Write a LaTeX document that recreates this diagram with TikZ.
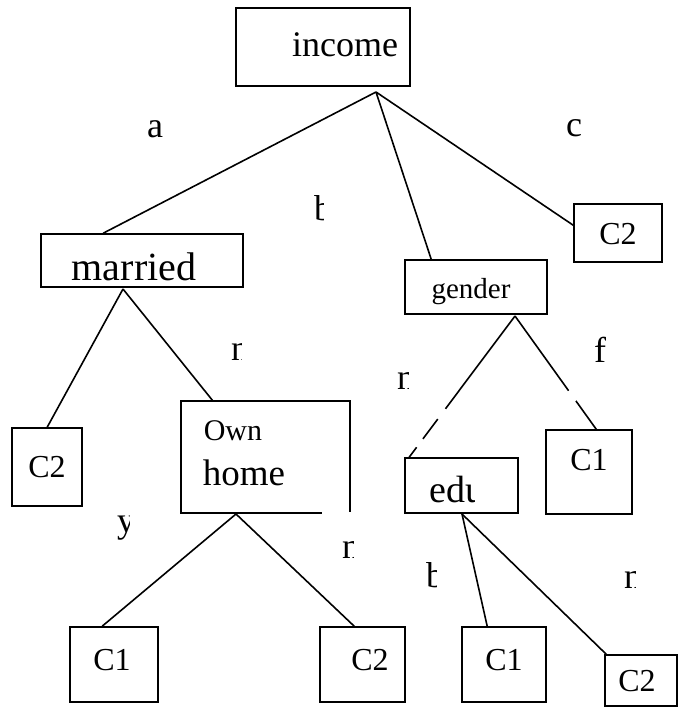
\documentclass[tikz,border=0pt]{standalone}
\usepackage{fontspec}
\setmainfont{Liberation Serif}
\usetikzlibrary{calc}
\begin{document}
\begin{tikzpicture}[x=1pt,y=-1pt,
  box/.style={draw,line width=1.6pt,inner sep=0pt},
  hid/.style={inner sep=0pt},
  txt/.style={inner sep=0pt,font=\fontsize{#1}{#1}\selectfont},
  lbl/.style={inner sep=0pt,anchor=base west,font=\fontsize{36}{36}\selectfont},
  con/.style={line width=1.6pt}]
\useasboundingbox (0,0) rectangle (680,712);
% boxes
\node[box,minimum width=174pt,minimum height=78pt] (income) at (323,47) {};
\node[box,minimum width=202pt,minimum height=53pt] (married) at (142,260.5) {};
\node[box,minimum width=142pt,minimum height=54pt] (gender) at (476,287) {};
\node[box,minimum width=88pt,minimum height=58pt] (c2tr) at (618,233) {};
\node[box,minimum width=70pt,minimum height=78pt] (c2l) at (47,467) {};
\node[hid,minimum width=169pt,minimum height=112pt] (own) at (265.5,457) {};
\node[box,minimum width=86pt,minimum height=84pt] (c1r) at (589,472) {};
\node[box,minimum width=113pt,minimum height=55pt] (edu) at (461.5,485.5) {};
\node[box,minimum width=88pt,minimum height=75pt] (c1bl) at (114,664.5) {};
\node[box,minimum width=85pt,minimum height=75pt] (c2bm) at (362.5,664.5) {};
\node[box,minimum width=84pt,minimum height=75pt] (c1bm) at (504,664.5) {};
\node[box,minimum width=72pt,minimum height=51pt] (c2br) at (641,680.5) {};
% own home box with gap in its bottom edge
\draw[con] ($(own.south west)+(141,0)$) -- (own.south west) -- (own.north west) -- (own.north east) -- ($(own.south east)+(0,-1)$);
% texts
\node[txt=36] (tincome) at (345,45) {income};
\node[txt=40] (tmarried) at (134,267) {married};
\node[txt=29] (tgender) at (471,292) {gender};
\node[txt=32] (tc2tr) at (618,234) {C2};
\node[txt=32] (tc2l) at (47,467) {C2};
\node[txt=30] (town) at (233,431) {Own};
\node[txt=37] (thome) at (244,473) {home};
\node[txt=32] (tc1r) at (589,460) {C1};
\node[txt=32] (tc1bl) at (112,660) {C1};
\node[txt=32] (tc2bm) at (370,660) {C2};
\node[txt=32] (tc1bm) at (504,660) {C1};
\node[txt=32] (tc2br) at (637,681) {C2};
\begin{scope}
  \clip (420,470) rectangle (474,520);
  \node[lbl,font=\fontsize{38}{38}\selectfont] (tedu) at (429,502) {edu};
\end{scope}
% edge labels
\node[lbl] (la) at (147,137) {a};
\node[lbl] (lc) at (566,136) {c};
\node[lbl] (lf) at (594,362) {f};
\begin{scope}\clip (300,180) rectangle (323,230); \node[lbl] (lb1) at (314,220) {b};\end{scope}
\begin{scope}\clip (415,550) rectangle (436,600); \node[lbl] (lb2) at (426,587) {b};\end{scope}
\begin{scope}\clip (220,330) rectangle (241,370); \node[lbl] (ln1) at (231,360) {n};\end{scope}
\begin{scope}\clip (385,360) rectangle (408,400); \node[lbl] (ln2) at (397,389) {n};\end{scope}
\begin{scope}\clip (330,530) rectangle (353,570); \node[lbl] (ln3) at (342,558) {n};\end{scope}
\begin{scope}\clip (610,560) rectangle (635,600); \node[lbl] (ln4) at (624,588) {n};\end{scope}
\begin{scope}\clip (105,500) rectangle (129,550); \node[lbl] (ly) at (117,532) {y};\end{scope}
% junction points
\coordinate (incA) at (376,92);
\coordinate (marA) at (123,289);
\coordinate (ownA) at (236,514);
\coordinate (genA) at (515,316);
\coordinate (eduA) at (462,514);
% connectors
\draw[con] (incA) -- ($(married.north west)+(63,0)$);
\draw[con] (incA) -- ($(gender.north west)+(27,0)$);
\draw[con] (incA) -- ($(c2tr.north west)+(0,22)$);
\draw[con] (marA) -- ($(c2l.north west)+(36,0)$);
\draw[con] (marA) -- ($(own.north west)+(32,0)$);
\draw[con] (ownA) -- ($(c1bl.north west)+(33,0)$);
\draw[con] (ownA) -- ($(c2bm.north west)+(35,0)$);
\coordinate (eduT) at ($(edu.north west)+(5,0)$);
\draw[con] (genA) -- ($(genA)!0.657!(eduT)$);
\draw[con] ($(genA)!0.73!(eduT)$) -- ($(genA)!0.87!(eduT)$);
\draw[con] ($(genA)!0.93!(eduT)$) -- (eduT);
\coordinate (c1rT) at ($(c1r.north west)+(51,0)$);
\draw[con] (genA) -- ($(genA)!0.66!(c1rT)$);
\draw[con] ($(genA)!0.75!(c1rT)$) -- (c1rT);
\draw[con] (eduA) -- ($(c1bm.north west)+(26,0)$);
\draw[con] (eduA) -- ($(c2br.north west)+(2,0)$);
\end{tikzpicture}
\end{document}
